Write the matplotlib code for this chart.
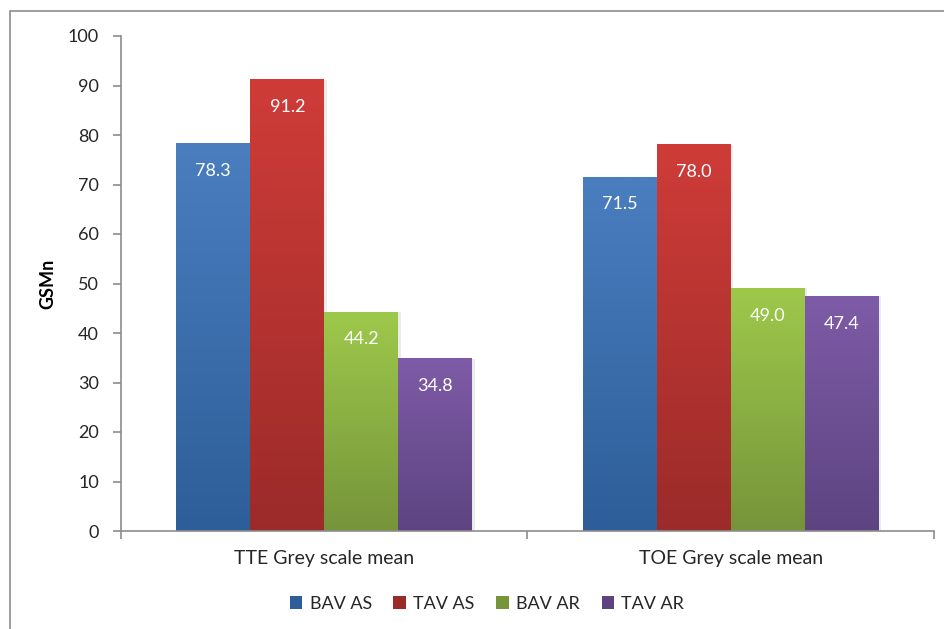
import numpy as np
import matplotlib
matplotlib.use("Agg")
import matplotlib.pyplot as plt
from matplotlib.colors import LinearSegmentedColormap
from matplotlib.patches import Rectangle, Patch

plt.rcParams["font.family"] = ["Lato", "DejaVu Sans"]

categories = ["TTE Grey scale mean", "TOE Grey scale mean"]
series = ["BAV AS", "TAV AS", "BAV AR", "TAV AR"]
bav_as = [78.3, 71.5]
tav_as = [91.2, 78.0]
bav_ar = [44.2, 49.0]
tav_ar = [34.8, 47.4]
values = [bav_as, tav_as, bav_ar, tav_ar]

# (top colour, bottom colour) per series
grads = [("#4A7EBF", "#2D5E99"), ("#CF3C38", "#9B2B29"),
         ("#9DC94B", "#76943A"), ("#7E5BA7", "#5D4481")]

fig = plt.figure(figsize=(9.44, 6.29), dpi=100)
fig.patches.append(Rectangle((10 / 944, -0.1), 1.2, 1 - 11 / 629 + 0.1,
                             transform=fig.transFigure, fill=False,
                             edgecolor="#8C8C8C", linewidth=1.2))
ax = fig.add_axes([121 / 944, (629 - 531) / 629, (934 - 121) / 944, (531 - 36) / 629])

x = np.arange(len(categories))
w = 0.182
grey = "#8C8C8C"
for i, (vals, (ctop, cbot)) in enumerate(zip(values, grads)):
    cmap = LinearSegmentedColormap.from_list(f"g{i}", [cbot, ctop])
    pos = x + (i - 1.5) * w
    for xp, v in zip(pos, vals):
        # faint shadow on the right
        ax.add_patch(Rectangle((xp - w / 2 + 0.006, 0), w, v, color="#000000",
                               alpha=0.08, zorder=1, linewidth=0))
        grad = np.linspace(0, 1, 256).reshape(-1, 1)
        ax.imshow(grad, extent=[xp - w / 2, xp + w / 2, 0, v], origin="lower",
                  cmap=cmap, aspect="auto", zorder=2)
        ax.text(xp, v - 5.5, f"{v:.1f}", ha="center", va="center",
                color="white", fontsize=13, zorder=3)

ax.set_xlim(-0.5, 1.5)
ax.set_ylim(0, 100)
ax.set_yticks(np.arange(0, 101, 10))
ax.set_xticks([-0.5, 0.5, 1.5], minor=False)
ax.set_xticklabels([])
ax.set_xticks(x, minor=True)
ax.set_xticklabels(categories, minor=True, fontsize=14, color="#262626")
ax.tick_params(axis="x", which="minor", length=0, pad=14)
ax.tick_params(axis="x", which="major", length=6, color=grey, width=1.2)
ax.tick_params(axis="y", length=6, color=grey, width=1.2, labelsize=13,
               labelcolor="#262626", pad=10)
for s in ["top", "right"]:
    ax.spines[s].set_visible(False)
for s in ["left", "bottom"]:
    ax.spines[s].set_color(grey)
    ax.spines[s].set_linewidth(1.2)
ax.set_ylabel("GSMn", fontsize=13, fontweight="bold", labelpad=8)

handles = [Patch(facecolor=c[1], edgecolor="none") for c in grads]
fig.legend(handles, series, loc="center", bbox_to_anchor=(487 / 944, 1 - 604 / 629),
           ncol=4, frameon=False, fontsize=13, handlelength=0.7, handleheight=0.7,
           handletextpad=0.4, columnspacing=1.2, labelcolor="#262626")

fig.savefig("out.png", dpi=100)
